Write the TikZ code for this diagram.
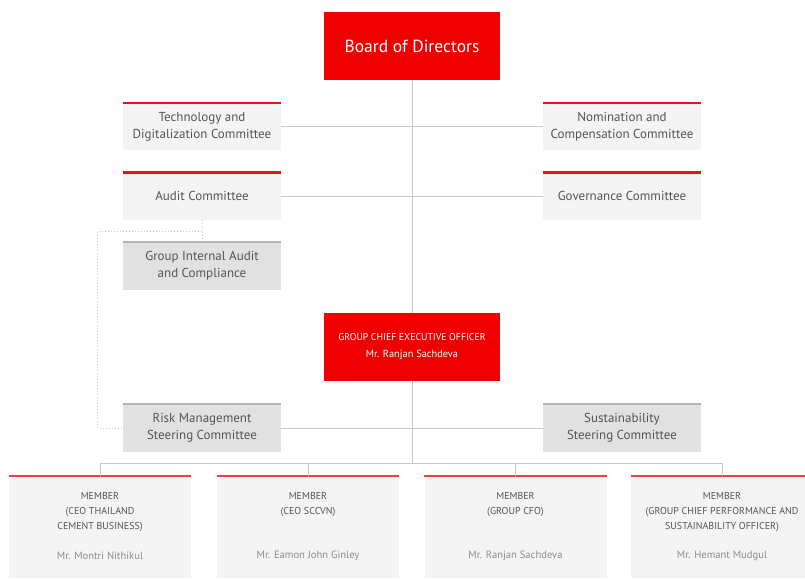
\documentclass[tikz,border=0pt]{standalone}
\usepackage{fontspec}
\setmainfont{PT Sans}
\usepackage{tikz}
\usetikzlibrary{positioning}

\definecolor{scgred}{RGB}{238,0,0}
\definecolor{topred}{RGB}{232,18,28}
\definecolor{lightfill}{RGB}{244,244,244}
\definecolor{grayfill}{RGB}{225,225,225}
\definecolor{graytop}{RGB}{180,180,180}
\definecolor{linegray}{RGB}{200,200,200}
\definecolor{textgray}{RGB}{85,85,85}
\definecolor{namegray}{RGB}{140,140,140}

\begin{document}
\begin{tikzpicture}[x=1pt,y=-1pt,
    redbox/.style={fill=scgred, text=white, minimum width=176pt, minimum height=68pt, inner sep=0pt, align=center},
    combox/.style={fill=lightfill, text=textgray, minimum width=158pt, minimum height=47pt, inner sep=0pt, align=center, font=\fontsize{13}{17}\selectfont},
    graybox/.style={combox, fill=grayfill},
    membox/.style={fill=lightfill, minimum width=182pt, minimum height=102pt, inner sep=0pt},
    memtitle/.style={text=textgray, align=center, inner sep=0pt, font=\fontsize{10}{15}\selectfont},
    memname/.style={text=namegray, inner sep=0pt, font=\fontsize{10.6}{12}\selectfont},
    conn/.style={draw=linegray, line width=1pt},
    dotconn/.style={draw=linegray, line width=1pt, dotted},
    redtop/.style={draw=topred, line width=2.6pt},
    graytopline/.style={draw=graytop, line width=2pt},
    memtop/.style={draw=topred!80, line width=1.4pt}]
    \useasboundingbox (0,0) rectangle (805,578);

    % Board and CEO
    \node[redbox, font=\fontsize{17.5}{20}\selectfont] (board) at (412,46) {Board of Directors};
    \node[redbox] (ceo) at (412,347) {{\fontsize{9.8}{11}\selectfont GROUP CHIEF EXECUTIVE OFFICER}\\[5pt]{\fontsize{10.4}{12}\selectfont Mr. Ranjan Sachdeva}};

    % Committees
    \node[combox] (tech) at (202,126.5) {Technology and\\Digitalization Committee};
    \node[combox] (nomin) at (622,126.5) {Nomination and\\Compensation Committee};
    \node[combox] (audit) at (202,196) {Audit Committee};
    \node[combox] (govern) at (622,196) {Governance Committee};
    \node[graybox] (gia) at (202,266) {Group Internal Audit\\and Compliance};
    \node[graybox] (risk) at (202,428) {Risk Management\\Steering Committee};
    \node[graybox] (sustain) at (622,428) {Sustainability\\Steering Committee};

    % Members
    \node[membox] (m1) at (100,527) {};
    \node[membox] (m2) at (308,527) {};
    \node[membox] (m3) at (515.5,527) {};
    \node[membox] (m4) at (722,527) {};

    \node[memtitle, anchor=north] (t1) at ([yshift=-16pt]m1.north) {MEMBER\\(CEO THAILAND\\CEMENT BUSINESS)};
    \node[memtitle, anchor=north] (t2) at ([yshift=-16pt]m2.north) {MEMBER\\(CEO SCCVN)};
    \node[memtitle, anchor=north] (t3) at ([yshift=-16pt]m3.north) {MEMBER\\(GROUP CFO)};
    \node[memtitle, anchor=north] (t4) at ([yshift=-16pt]m4.north) {MEMBER\\(GROUP CHIEF PERFORMANCE AND\\SUSTAINABILITY OFFICER)};
    \node[memname] (n1) at ([yshift=-80pt]m1.north) {Mr. Montri Nithikul};
    \node[memname] (n2) at ([yshift=-80pt]m2.north) {Mr. Eamon John Ginley};
    \node[memname] (n3) at ([yshift=-80pt]m3.north) {Mr. Ranjan Sachdeva};
    \node[memname] (n4) at ([yshift=-80pt]m4.north) {Mr. Hemant Mudgul};

    % top edges
    \foreach \n in {tech,nomin,audit,govern}
        \draw[redtop] (\n.north west) -- (\n.north east);
    \foreach \n in {gia,risk,sustain}
        \draw[graytopline] (\n.north west) -- (\n.north east);
    \foreach \n in {m1,m2,m3,m4}
        \draw[memtop] (\n.north west) -- (\n.north east);

    % Connectors
    \coordinate (bus) at (412,463);
    \coordinate (split) at (202,231);
    \draw[conn] (board) -- (ceo);
    \draw[conn] (tech) -- (nomin);
    \draw[conn] (audit) -- (govern);
    \draw[conn] (risk) -- (sustain);
    \draw[conn] (ceo.south) -- (bus);
    \draw[conn] (m1.north) |- (m4.north |- bus) -- (m4.north);
    \draw[conn] (m2.north) -- (m2.north |- bus);
    \draw[conn] (m3.north) -- (m3.north |- bus);
    \draw[dotconn] (audit) -- (gia);
    \draw[dotconn] (split) -| ([xshift=-25pt]risk.west) -- (risk.west);
\end{tikzpicture}
\end{document}
